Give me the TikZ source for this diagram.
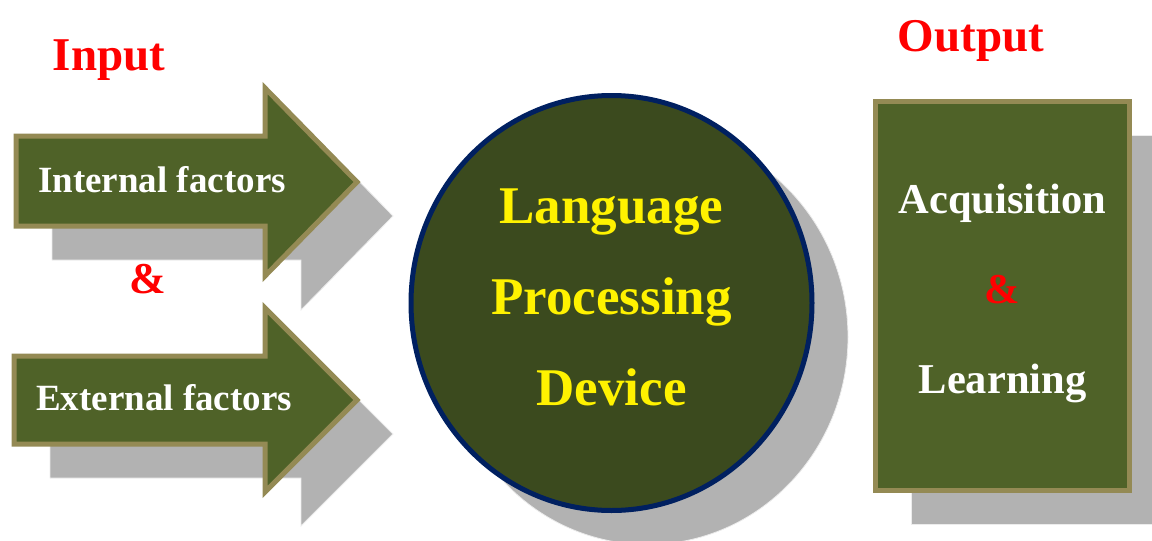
\documentclass[tikz,border=0pt]{standalone}
\usepackage{fontspec}
\setmainfont{Liberation Serif}
\usetikzlibrary{shadows,shapes.geometric}

\definecolor{olivefill}{HTML}{4F6228}
\definecolor{olivedark}{HTML}{3B4A1E}
\definecolor{tanline}{HTML}{948A54}
\definecolor{navyline}{HTML}{002060}
\definecolor{shadowgray}{HTML}{B2B2B2}

\tikzset{
  boxshadow/.style={drop shadow={shadow xshift=36pt, shadow yshift=-34pt,
      fill=shadowgray, draw=white!75!shadowgray, line width=0.8pt, opacity=1}},
  arrowshape/.style={fill=olivefill, draw=tanline, line width=5pt, boxshadow},
  arrowtext/.style={text=white, font=\bfseries\fontsize{37}{44}\selectfont, anchor=base},
  heading/.style={text=red, font=\bfseries\fontsize{47}{56}\selectfont, anchor=base},
}

\begin{document}
\begin{tikzpicture}[x=1pt,y=-1pt]
            \useasboundingbox (0,0) rectangle (1152,541);
            % input arrows
            \draw[arrowshape] (16,136) -- (265,136) -- (265,88) -- (357,182)
                -- (265,276) -- (265,226) -- (16,226) -- cycle;
            \draw[arrowshape] (14,356) -- (265,356) -- (265,308) -- (357,400)
                -- (265,492) -- (265,444) -- (14,444) -- cycle;
            \node[arrowtext] (internal) at (162,192) {Internal factors};
            \node[arrowtext] (external) at (164,410) {External factors};
            \node[heading] (input) at (109,70) {Input};
            \node[heading, font=\bfseries\fontsize{44}{50}\selectfont] (amp) at (148,293) {\&};
            % processing device
            \node[ellipse, minimum width=401pt, minimum height=415pt, fill=olivedark,
                draw=navyline, line width=5pt, boxshadow] (lpd) at (611.5,303) {};
            \node[align=center, text=yellow, font=\bfseries\fontsize{53}{91}\selectfont]
                (lpdtext) at (611.5,297.5) {Language\\Processing\\Device};
            % output box
            \node[heading] (output) at (971,51) {Output};
            \node[rectangle, minimum width=254pt, minimum height=389pt, fill=olivefill,
                draw=tanline, line width=5pt, boxshadow] (outbox) at (1002.5,296) {};
            \node[align=center, text=white, font=\bfseries\fontsize{42.5}{90}\selectfont]
                (outtext) at (1002.5,293) {Acquisition\\\textcolor{red}{\&}\\Learning};
        \end{tikzpicture}
\end{document}
